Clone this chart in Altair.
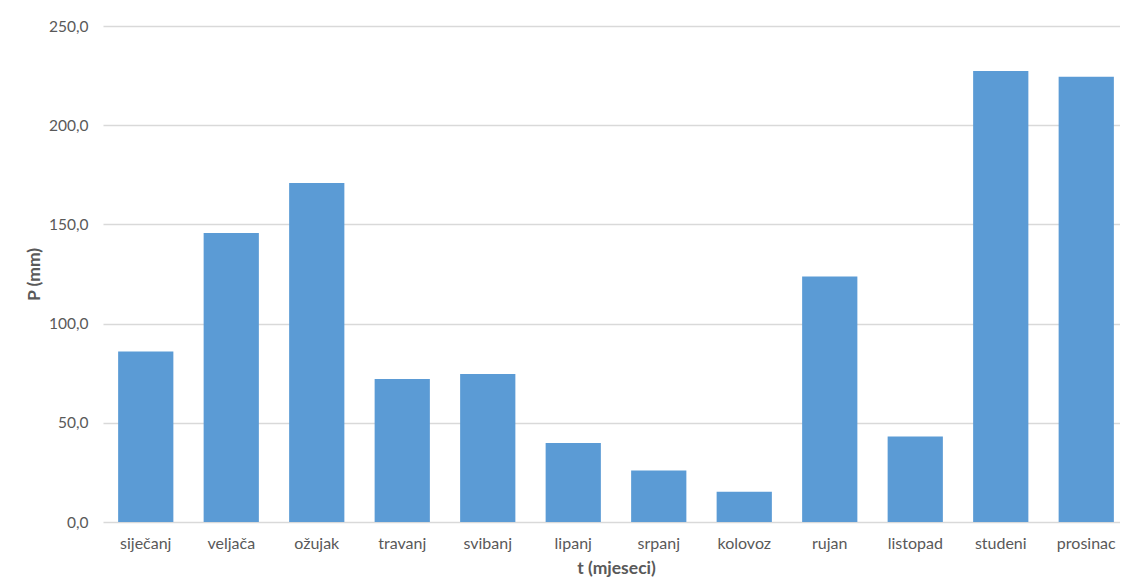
import altair as alt
import pandas as pd

months = ["siječanj", "veljača", "ožujak", "travanj", "svibanj", "lipanj",
          "srpanj", "kolovoz", "rujan", "listopad", "studeni", "prosinac"]
precip = [85.9, 145.7, 170.9, 72.1, 74.6, 39.8, 26.0, 15.3, 123.8, 43.1, 227.3, 224.4]
y_ticks = [0, 50, 100, 150, 200, 250]

df = pd.DataFrame({"mjesec": months, "P": precip})

FONT = "Lato"
TXT = "#595959"

chart = alt.Chart(df).mark_bar(color="#5b9bd5", clip=False).encode(
    x=alt.X("mjesec:N", sort=months,
            scale=alt.Scale(paddingInner=0.354, paddingOuter=0.177, range=[0, 1026]),
            axis=alt.Axis(title="t (mjeseci)", labelAngle=0, ticks=False,
                          domain=False, grid=False, labelPadding=13,
                          labelFontSize=16, labelColor=TXT, labelFont=FONT,
                          titleFont=FONT, titleFontSize=17.5, titleColor=TXT,
                          titleFontWeight="bold", titleBaseline="alphabetic",
                          titleX=513, titleY=51)),
    y=alt.Y("P:Q", scale=alt.Scale(domain=[0, 250], nice=False),
            axis=alt.Axis(title="P (mm)", values=y_ticks, ticks=False,
                          domain=False, grid=True, gridColor="#d9d9d9",
                          gridWidth=1.3, labelPadding=15,
                          labelExpr="replace(format(datum.value, '.1f'), '.', ',')",
                          labelFontSize=15.5, labelColor=TXT, labelFont=FONT,
                          titleFont=FONT, titleFontSize=17.5, titleColor=TXT,
                          titleFontWeight="bold", titleBaseline="middle",
                          titleX=-69, titleY=248, titleAngle=-90)),
).properties(
    width=1011,
    height=496,
    autosize=alt.AutoSizeParams(type="none"),
    padding={"left": 95, "top": 18, "right": 6, "bottom": 55},
).configure_view(stroke=None)

chart.save("out.html", embed_options={"renderer": "svg", "actions": False})
